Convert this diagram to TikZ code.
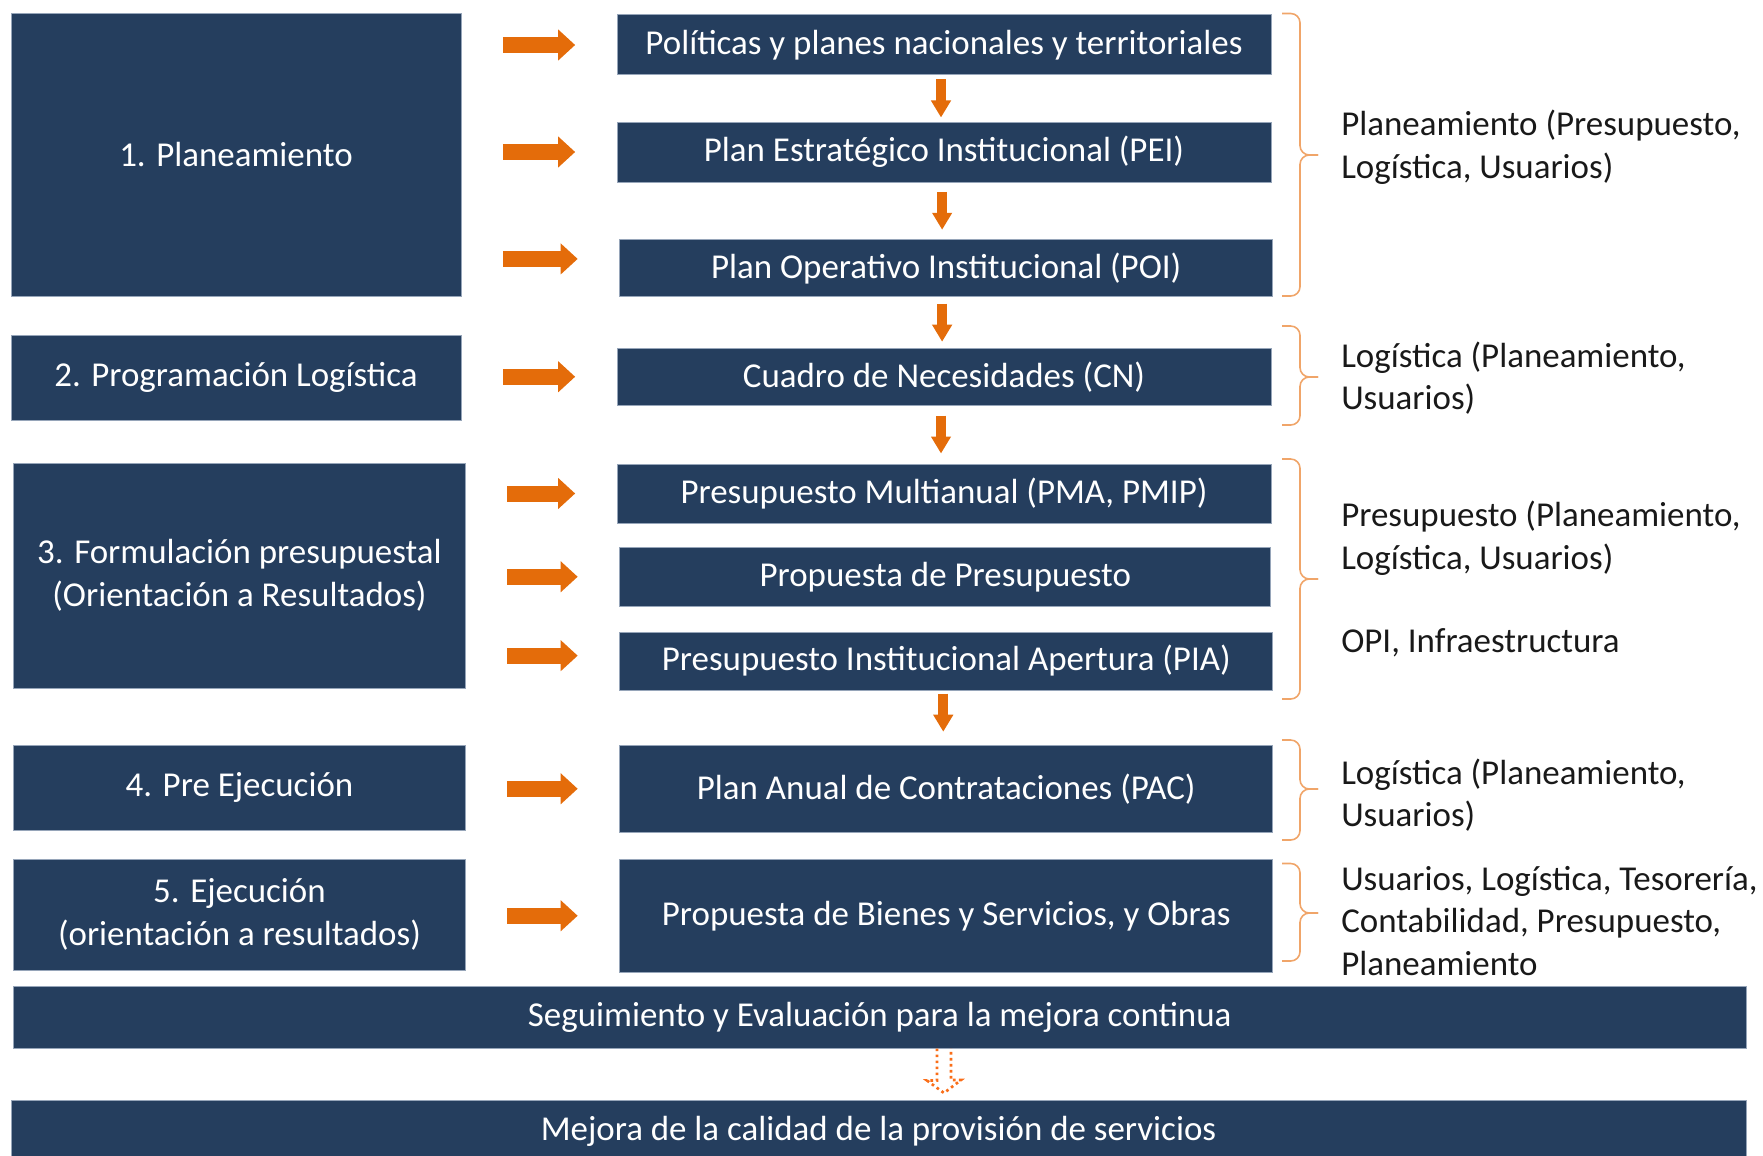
\documentclass[tikz,border=0pt]{standalone}
\usepackage{fontspec}
\setmainfont{Carlito}
\usetikzlibrary{arrows.meta,calc}

\definecolor{azul}{RGB}{37,62,94}
\definecolor{borde}{RGB}{150,165,185}
\definecolor{naranja}{RGB}{228,108,10}
\definecolor{llave}{RGB}{240,165,105}
\definecolor{punteado}{RGB}{250,110,25}
\definecolor{texto}{RGB}{25,25,25}

\tikzset{
  caja/.style={fill=azul, draw=borde, line width=0.75pt, inner sep=0pt, text=white,
    align=center, font=\fontsize{26.2pt}{32pt}\selectfont},
  derecha/.style={draw=naranja, line width=12pt, -{Triangle[length=12.75pt,width=22.5pt]},
    shorten <=31pt, shorten >=31pt},
  bajar/.style={draw=naranja, line width=7.5pt, -{Triangle[length=12.75pt,width=14.25pt]}},
  llaves/.style={draw=llave, line width=1.2pt, rounded corners=7pt},
  hueco/.style={draw=punteado, line width=2pt, dash pattern=on 2pt off 2.5pt},
  nota/.style={anchor=west, inner sep=0pt, align=left, text=texto,
    font=\fontsize{26.2pt}{32pt}\selectfont}
}

\begin{document}
\begin{tikzpicture}[x=0.75pt,y=0.75pt,yscale=-1,xscale=1]
    \useasboundingbox (0,0) rectangle (1763,1156);

    % Etapas (left column)
    \node[caja, minimum width=337.5pt, minimum height=211.9pt] (plan) at (236,154.75) {1. Planeamiento};
    \node[caja, minimum width=337.5pt, minimum height=64.1pt] (prog) at (236,377.75) {2. Programación Logística};
    \node[caja, minimum width=339pt, minimum height=168.75pt] (form) at (239.5,575.5) {3. Formulación presupuestal\\(Orientación a Resultados)};
    \node[caja, minimum width=339pt, minimum height=63.4pt] (pre) at (239.5,787.75) {4. Pre Ejecución};
    \node[caja, minimum width=339pt, minimum height=83.25pt] (ejec) at (239.5,914.5) {5. Ejecución\\(orientación a resultados)};

    % Productos (middle column)
    \node[caja, minimum width=490.5pt, minimum height=45pt] (pol) at (944,45) {Políticas y planes nacionales y territoriales};
    \node[caja, minimum width=490.5pt, minimum height=45pt] (pei) at (944,152) {Plan Estratégico Institucional (PEI)};
    \node[caja, minimum width=490.1pt, minimum height=43.1pt] (poi) at (946.25,268.25) {Plan Operativo Institucional (POI)};
    \node[caja, minimum width=490.5pt, minimum height=42.4pt] (cn) at (944,376.75) {Cuadro de Necesidades (CN)};
    \node[caja, minimum width=490.5pt, minimum height=44.25pt] (pma) at (944,493.5) {Presupuesto Multianual (PMA, PMIP)};
    \node[caja, minimum width=488.6pt, minimum height=43.9pt] (prop) at (945.25,576.75) {Propuesta de Presupuesto};
    \node[caja, minimum width=490.1pt, minimum height=43.5pt] (pia) at (946.25,661) {Presupuesto Institucional Apertura (PIA)};
    \node[caja, minimum width=490.1pt, minimum height=64.9pt] (pac) at (946.25,788.75) {Plan Anual de Contrataciones (PAC)};
    \node[caja, minimum width=490.1pt, minimum height=85.1pt] (bienes) at (946.25,915.75) {Propuesta de Bienes y Servicios, y Obras};

    % Bottom bars
    \node[caja, minimum width=1299.4pt, minimum height=46.5pt] (seg) at (879.75,1017) {Seguimiento y Evaluación para la mejora continua};
    \node[caja, minimum width=1301.25pt, minimum height=46.5pt] (mejora) at (878.5,1131) {Mejora de la calidad de la provisión de servicios};

    % Flechas etapa -> producto
    \draw[derecha] (plan.east |- pol.west) -- (pol.west);
    \draw[derecha] (plan.east |- pei.west) -- (pei.west);
    \draw[derecha, transform canvas={yshift=7pt}] (plan.east |- poi.west) -- (poi.west);
    \draw[derecha] (prog.east |- cn.west) -- (cn.west);
    \draw[derecha] (form.east |- pma.west) -- (pma.west);
    \draw[derecha] (form.east |- prop.west) -- (prop.west);
    \draw[derecha, transform canvas={yshift=4pt}] (form.east |- pia.west) -- (pia.west);
    \draw[derecha] (pre.east |- pac.west) -- (pac.west);
    \draw[derecha] (ejec.east |- bienes.west) -- (bienes.west);

    % Flechas entre productos
    \draw[bajar] ($(pol.south)!.5!(pei.north)+(-3,-19)$) -- ++(0,38);
    \draw[bajar] ($(pei.south)!.5!(poi.north)+(-3,-19)$) -- ++(0,38);
    \draw[bajar] ($(poi.south)!.5!(cn.north)+(-3,-19)$) -- ++(0,38);
    \draw[bajar] ($(cn.south)!.5!(pma.north)+(-3,-19)$) -- ++(0,38);
    \draw[bajar] ($(pia.south)!.5!(pac.north)+(-3,-24)$) -- ++(0,38);

    % Llaves
    \draw[llaves] (1282,13.5) -- (1300,13.5) -- (1300,155) -- (1318,155);
    \draw[llaves] (1318,155) -- (1300,155) -- (1300,296) -- (1282,296);
    \draw[llaves] (1282,326) -- (1300,326) -- (1300,377) -- (1318,377);
    \draw[llaves] (1318,377) -- (1300,377) -- (1300,425) -- (1282,425);
    \draw[llaves] (1282,459) -- (1300,459) -- (1300,579) -- (1318,579);
    \draw[llaves] (1318,579) -- (1300,579) -- (1300,699) -- (1282,699);
    \draw[llaves] (1282,740) -- (1300,740) -- (1300,789) -- (1318,789);
    \draw[llaves] (1318,789) -- (1300,789) -- (1300,840) -- (1282,840);
    \draw[llaves] (1282,863.5) -- (1300,863.5) -- (1300,913) -- (1318,913);
    \draw[llaves] (1318,913) -- (1300,913) -- (1300,961) -- (1282,961);

    % Responsables
    \node[nota] (r1) at (1341,147) {Planeamiento (Presupuesto,\\Logística, Usuarios)};
    \node[nota] (r2) at (1341,378) {Logística (Planeamiento,\\Usuarios)};
    \node[nota] (r3) at (1341,538.5) {Presupuesto (Planeamiento,\\Logística, Usuarios)};
    \node[nota] (r3b) at (1341,643) {OPI, Infraestructura};
    \node[nota] (r4) at (1341,795) {Logística (Planeamiento,\\Usuarios)};
    \node[nota] (r5) at (1341,921) {Usuarios, Logística, Tesorería,\\Contabilidad, Presupuesto,\\Planeamiento};

    % Flecha punteada
    \coordinate (punta) at (944,1093);
    \draw[hueco] ($(seg.south -| punta)+(-7,0)$) -- ++(0,32) -- ++(-10,0) -- (punta)
        -- ++(17,-13) -- ++(-10,0) -- ($(seg.south -| punta)+(7,0)$);

\end{tikzpicture}
\end{document}
